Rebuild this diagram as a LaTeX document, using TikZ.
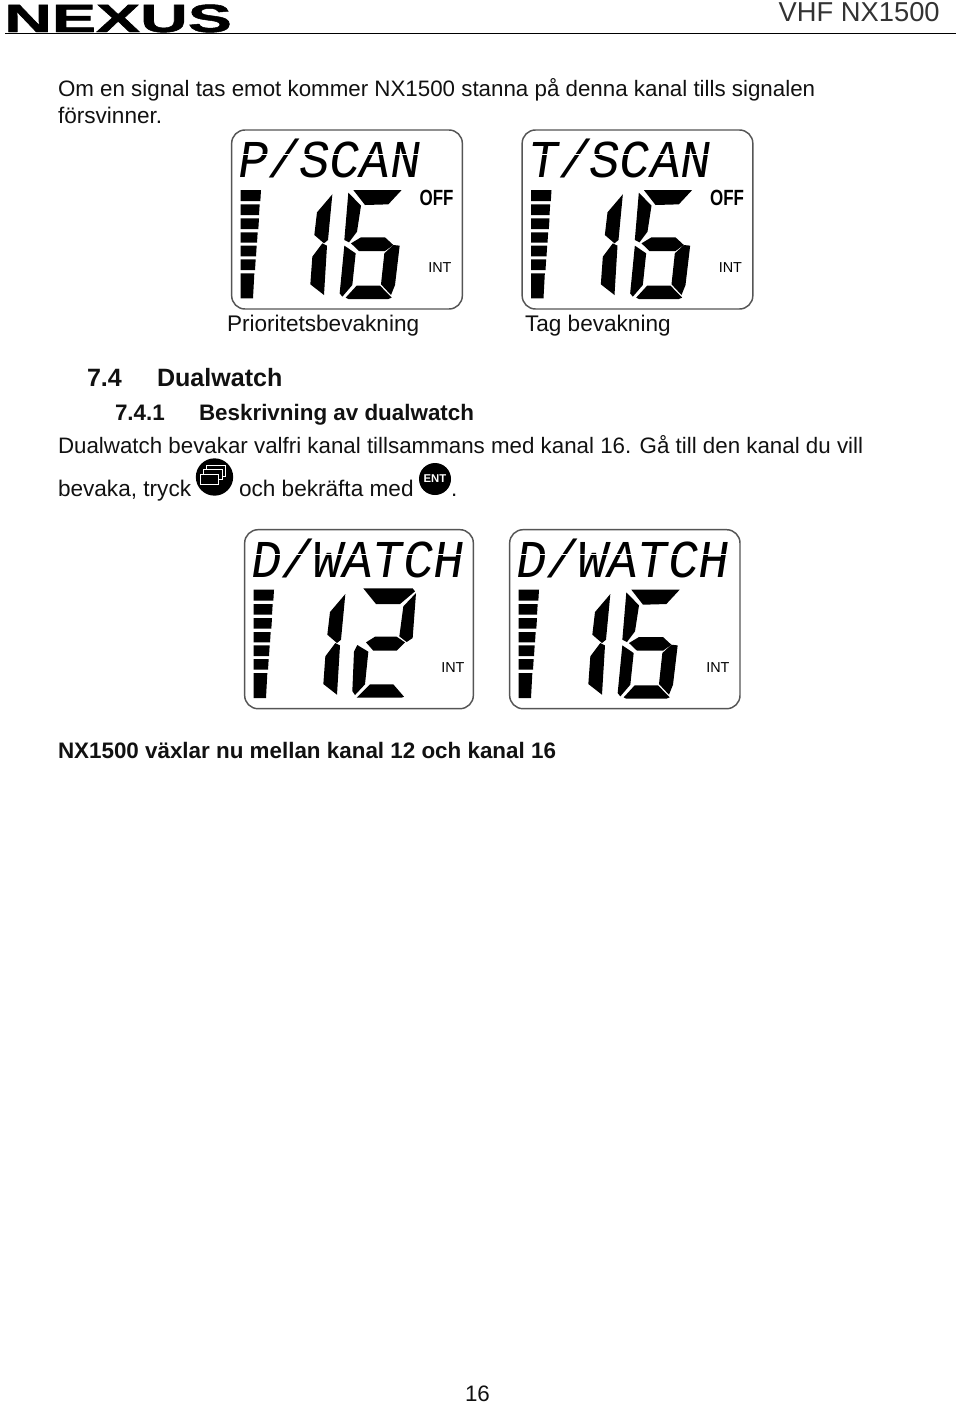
\documentclass[tikz,border=0pt]{standalone}
\usepackage{fontspec}
\setmainfont{Liberation Sans}
\newfontfamily\lcdfont[FakeSlant=0.16]{Liberation Mono}
\newfontfamily\logofont[FakeBold=1.2]{Liberation Sans}
\definecolor{ink}{HTML}{111111}
\definecolor{framegray}{HTML}{555555}
\tikzset{
  body/.style={anchor=base west,inner sep=0pt,outer sep=0pt,text=ink,font=\fontsize{16.75}{18}\selectfont},
  bodywide/.style={body,font=\fontsize{16.95}{18}\selectfont},
  head/.style={body,font=\bfseries\fontsize{16.8}{18}\selectfont},
  bighead/.style={body,font=\bfseries\fontsize{18.8}{20}\selectfont},
  seg/.style={fill=black,draw=none,line join=round},
  lcdframe/.style={draw=framegray,line width=1.1pt,rounded corners=10pt,fill=white},
  lcdtitle/.style={anchor=base west,inner sep=0pt,text=black,font=\lcdfont\fontsize{38}{40}\selectfont},
  offlabel/.style={anchor=base west,inner sep=0pt,text=black,font=\bfseries\fontsize{16.5}{18}\selectfont},
  intlabel/.style={anchor=base west,inner sep=0pt,text=black,font=\fontsize{10.8}{12}\selectfont},
  keydisc/.style={circle,fill=black,draw=none,inner sep=0pt},
  winrect/.style={draw=white,line width=.75pt,fill=black}
}
% LCD body: #1 name, #2 title, #3 right edge of the frame
\newcommand\lcdbase[3]{%
  \draw[lcdframe] (20,15) rectangle (#3,552);
  \node[lcdtitle] (#1t) at (33,158) {\scalebox{1}[1.05]{#2}};
  \fill[white] (25,87) rectangle (#3-15,91);
  \foreach \a/\b/\c/\d in {195/228/108/106,238/270/104/102,280/312/102/100,322/353/98/96,362/394/95/93,403/435/92/90,445/520/88/84}
    \fill[seg] (47,\a) -- (\c,\a) -- (\d,\b) -- (47,\b) -- cycle;
  % digit 1
  \fill[seg] (322,208) -- (309,345) -- (297,355) -- (268,330) -- (276,262) -- cycle;
  \fill[seg] (306,362) -- (297,510) -- (256,478) -- (262,395) -- (292,355) -- cycle;
  \node[intlabel] (#1i) at (609,443) {INT};
}
\newcommand\digitsix{%
  \fill[seg] (385,195) -- (530,195) -- (490,238) -- (420,240) -- cycle;
  \fill[seg] (370,203) -- (408,242) -- (396,320) -- (372,352) -- (358,345) -- cycle;
  \fill[seg] (378,355) -- (408,337) -- (480,337) -- (505,360) -- (480,378) -- (402,378) -- cycle;
  \fill[seg] (358,362) -- (392,385) -- (382,480) -- (352,515) -- (344,505) -- cycle;
  \fill[seg] (524,362) -- (510,480) -- (498,510) -- (468,478) -- (478,385) -- (505,360) -- cycle;
  \fill[seg] (362,518) -- (395,482) -- (465,482) -- (500,518) -- (490,522) -- (370,522) -- cycle;
}
\newcommand\digittwo{%
  \fill[seg] (376,191) -- (524,191) -- (531,200) -- (486,238) -- (414,238) -- cycle;
  \fill[seg] (534,205) -- (524,340) -- (506,352) -- (484,335) -- (496,245) -- cycle;
  \fill[seg] (384,353) -- (411,336) -- (476,336) -- (501,353) -- (476,378) -- (406,378) -- cycle;
  \fill[seg] (358,361) -- (391,381) -- (381,479) -- (351,511) -- (343,499) -- (348,381) -- cycle;
  \fill[seg] (356,519) -- (396,479) -- (466,479) -- (498,516) -- (491,519) -- cycle;
}
\begin{document}
\begin{tikzpicture}[x=.75pt,y=-.75pt]
\useasboundingbox (0,0) rectangle (960,1404);
\fill[white] (0,0) rectangle (960,1404);
% header
\node[anchor=base west,inner sep=0pt] (logo) at (4,32) {\logofont\bfseries\fontsize{29.5}{31}\selectfont\scalebox{1.68}[1]{NEXUS}};
\coordinate (ruleL) at (5,33.5);
\coordinate (ruleR) at (956,33.5);
\draw[line width=1.2pt,black] (ruleL) -- (ruleR);
\node[anchor=base east,inner sep=0pt,text=black!80,font=\fontsize{20.5}{22}\selectfont] (model) at (940,21) {VHF NX1500};
% paragraph 1
\node[body] (p1) at (58,96) {Om en signal tas emot kommer NX1500 stanna på denna kanal tills signalen};
\node[bodywide] (p2) at (58,123) {försvinner.};
% top displays
\begin{scope}[shift={(225,125)},x=.25pt,y=-.25pt]
  \lcdbase{a}{P/SCAN}{712}
  \digitsix
  \node[offlabel] (aoff) at (583,242) {\scalebox{.77}[1]{OFF}};
\end{scope}
\begin{scope}[shift={(515.5,125)},x=.25pt,y=-.25pt]
  \lcdbase{b}{T/SCAN}{712}
  \digitsix
  \node[offlabel] (boff) at (583,242) {\scalebox{.77}[1]{OFF}};
\end{scope}
\node[bodywide] (c1) at (227,331) {Prioritetsbevakning};
\node[bodywide] (c2) at (525,331) {Tag bevakning};
% headings
\node[bighead] (h1n) at (87,386) {7.4};
\node[bighead] (h1) at (157,386) {Dualwatch};
\node[head] (h2n) at (115,420) {7.4.1};
\node[head] (h2) at (199,420) {Beskrivning av dualwatch};
% paragraph 2
\node[body] (p3) at (58,453) {Dualwatch bevakar valfri kanal tillsammans med kanal 16. Gå till den kanal du vill};
\node[bodywide] (p4) at (58,496) {bevaka, tryck};
\node[keydisc,minimum size=28pt] (key1) at (214.5,477) {};
\draw[winrect] (206,465.5) rectangle (225,476);
\draw[winrect] (203,469) rectangle (222,479.5);
\draw[winrect] (200.5,474) rectangle (218,484);
\node[bodywide] (p5) at (239,496) {och bekräfta med};
\node[keydisc,minimum size=24pt] (key2) at (435,479) {};
\node[text=white,inner sep=0pt,font=\bfseries\fontsize{8.5}{9}\selectfont] (ent) at (key2.center) {ENT};
\node[body] (p6) at (451,496) {.};
% lower displays
\begin{scope}[shift={(238,524.7)},x=.25pt,y=-.25pt]
  \lcdbase{c}{D/WATCH}{706}
  \digittwo
\end{scope}
\begin{scope}[shift={(503,524.7)},x=.25pt,y=-.25pt]
  \lcdbase{d}{D/WATCH}{711}
  \digitsix
\end{scope}
\node[head] (p7) at (58,758) {NX1500 växlar nu mellan kanal 12 och kanal 16};
\node[body] (pg) at (465,1401) {16};
\end{tikzpicture}
\end{document}
